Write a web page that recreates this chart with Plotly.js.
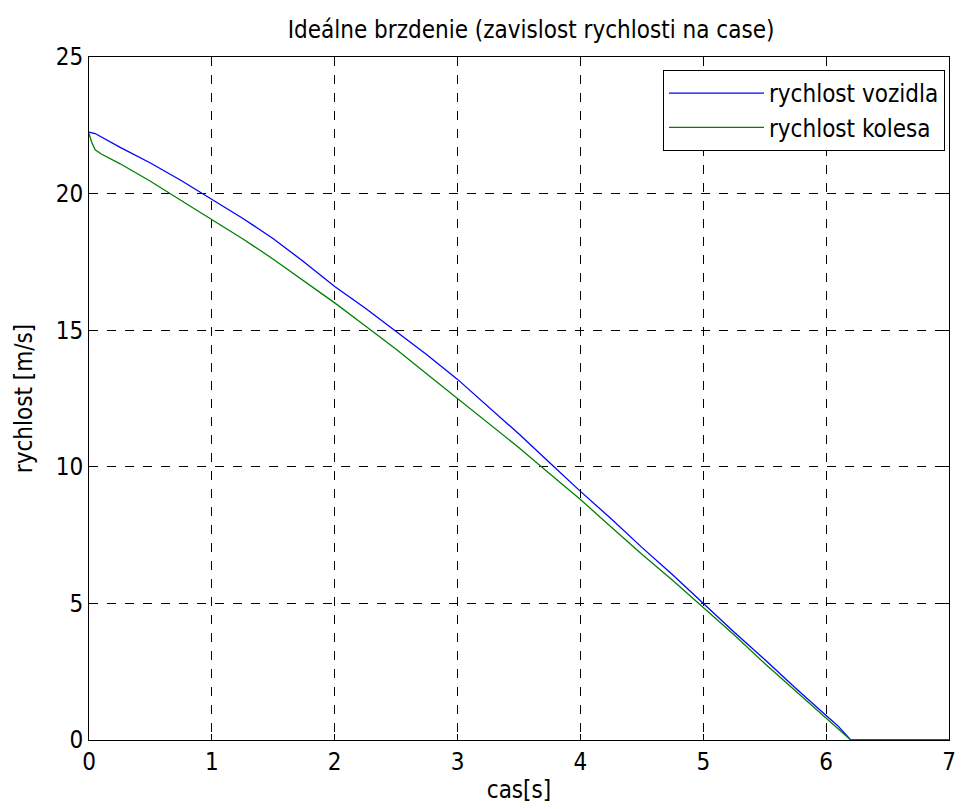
<!DOCTYPE html>
<html>
<head>
<meta charset="utf-8">
<script src="https://cdn.plot.ly/plotly-3.0.1.min.js"></script>
<style>html,body{margin:0;padding:0;background:#fff;}#chart{width:965px;height:809px;}</style>
</head>
<body>
<div id="chart"></div>
<script>
// time [s]
var tVehicle = [0, 0.05, 0.25, 0.5, 0.75, 1, 1.25, 1.5, 1.75, 2, 2.25, 2.5, 2.75, 3, 3.25, 3.5, 3.75, 4, 4.25, 4.5, 4.75, 5, 5.25, 5.5, 5.75, 6, 6.1, 6.2, 6.5, 7];
var vVehicle = [22.25, 22.2, 21.7, 21.12, 20.48, 19.8, 19.1, 18.35, 17.5, 16.6, 15.8, 14.95, 14.1, 13.2, 12.2, 11.2, 10.15, 9.1, 8.1, 7.05, 6.05, 5.0, 3.95, 2.95, 1.9, 0.9, 0.5, 0, 0, 0];
var tWheel = [0, 0.02, 0.05, 0.1, 0.25, 0.5, 0.75, 1, 1.25, 1.5, 1.75, 2, 2.25, 2.5, 2.75, 3, 3.25, 3.5, 3.75, 4, 4.25, 4.5, 4.75, 5, 5.25, 5.5, 5.75, 6, 6.2, 6.5, 7];
var vWheel = [22.2, 21.9, 21.6, 21.45, 21.1, 20.45, 19.75, 19.05, 18.35, 17.6, 16.8, 16.0, 15.15, 14.3, 13.4, 12.5, 11.6, 10.7, 9.75, 8.8, 7.8, 6.8, 5.85, 4.85, 3.85, 2.8, 1.8, 0.8, 0, 0, 0];
var seriesNames = ['rychlost vozidla', 'rychlost kolesa'];
var xTicks = [0, 1, 2, 3, 4, 5, 6, 7];
var yTicks = [0, 5, 10, 15, 20, 25];

var FONT = '"DejaVu Sans Condensed", "Liberation Sans", Arial, sans-serif';

var traces = [
  {x: tVehicle, y: vVehicle, name: seriesNames[0], mode: 'lines', type: 'scatter',
   line: {color: '#0000ff', width: 1.3}, cliponaxis: false},
  {x: tWheel, y: vWheel, name: seriesNames[1], mode: 'lines', type: 'scatter',
   line: {color: '#008000', width: 1.3}, cliponaxis: false}
];

var axisCommon = {
  showline: true, linecolor: '#000', linewidth: 1, mirror: 'ticks',
  ticks: 'inside', ticklen: 6, tickcolor: '#000', tickwidth: 1,
  showgrid: true, gridcolor: '#000', griddash: 'dash', gridwidth: 1,
  zeroline: false, automargin: false, tickfont: {family: FONT, size: 24, color: '#000'}
};

var layout = {
  width: 965, height: 809,
  paper_bgcolor: '#fff', plot_bgcolor: '#fff',
  margin: {l: 89, r: 16, t: 57, b: 69},
  font: {family: FONT, color: '#000'},
  title: {text: 'Ideálne brzdenie (zavislost rychlosti na case)', font: {family: FONT, size: 24, color: '#000'},
          xref: 'paper', x: 0.514, xanchor: 'center', y: 0.963, yanchor: 'middle', automargin: false},
  xaxis: Object.assign({}, axisCommon, {range: [0, 7], tickvals: xTicks, ticktext: xTicks.map(String),
    title: {text: 'cas[s]', font: {family: FONT, size: 24, color: '#000'}, standoff: 6}}),
  yaxis: Object.assign({}, axisCommon, {range: [0, 25], tickvals: yTicks, ticktext: yTicks.map(String),
    title: {text: 'rychlost [m/s]', font: {family: FONT, size: 24, color: '#000'}, standoff: 16}}),
  showlegend: true,
  legend: {x: 0.9953, xanchor: 'right', y: 0.981, yanchor: 'top', bgcolor: '#fff',
           bordercolor: '#000', borderwidth: 1, font: {family: FONT, size: 24, color: '#000'},
           itemwidth: 95, tracegroupgap: 0}
};

Plotly.newPlot('chart', traces, layout, {displayModeBar: false, staticPlot: true});
</script>
</body>
</html>
